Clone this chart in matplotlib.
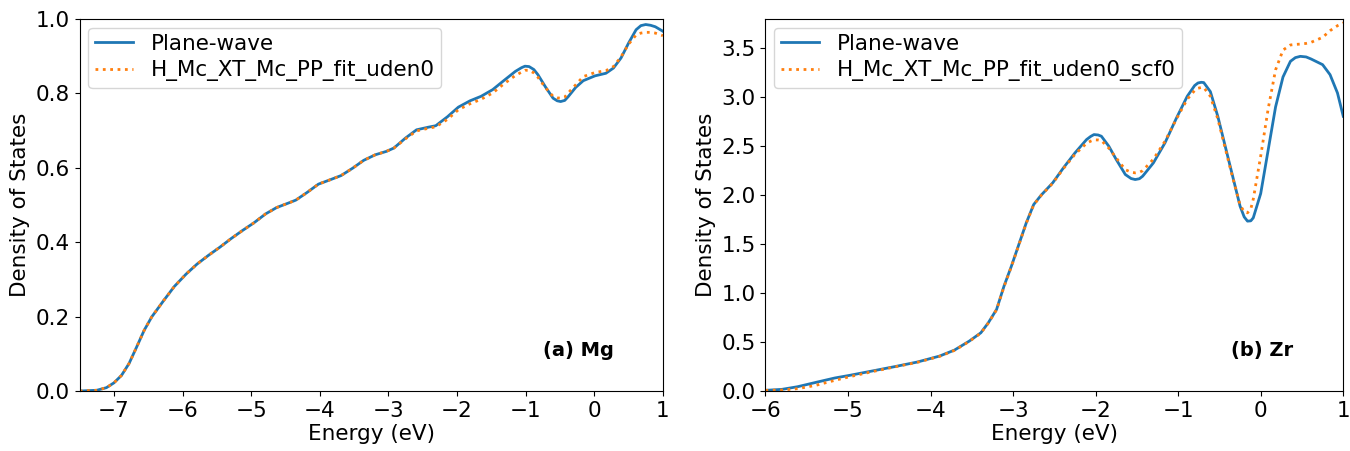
import numpy as np
import matplotlib.pyplot as plt

# Mg (panel a): energy (eV) and density of states
mg_energy = [-7.50, -7.25, -7.11, -7.00, -6.89, -6.78, -6.67, -6.56, -6.45, -6.28,
             -6.12, -5.95, -5.79, -5.62, -5.46, -5.29, -5.13, -4.96, -4.79, -4.63,
             -4.46, -4.35, -4.19, -4.02, -3.86, -3.69, -3.52, -3.36, -3.19, -3.03,
             -2.92, -2.75, -2.59, -2.42, -2.31, -2.14, -1.98, -1.81, -1.65, -1.48,
             -1.32, -1.15, -1.06, -1.01, -0.95, -0.88, -0.82, -0.71, -0.60, -0.54,
             -0.49, -0.43, -0.38, -0.27, -0.16, 0.01, 0.17, 0.28, 0.39, 0.50,
             0.61, 0.68, 0.75, 0.82, 0.89, 1.00]
mg_pw = [0.000, 0.002, 0.009, 0.022, 0.042, 0.074, 0.118, 0.163, 0.199, 0.242,
         0.281, 0.314, 0.341, 0.365, 0.386, 0.410, 0.431, 0.452, 0.476, 0.493,
         0.505, 0.513, 0.533, 0.556, 0.567, 0.579, 0.599, 0.620, 0.635, 0.644,
         0.653, 0.680, 0.702, 0.709, 0.713, 0.737, 0.763, 0.780, 0.792, 0.810,
         0.834, 0.859, 0.869, 0.873, 0.872, 0.864, 0.850, 0.817, 0.787, 0.780,
         0.778, 0.781, 0.791, 0.816, 0.834, 0.847, 0.854, 0.868, 0.895, 0.935,
         0.971, 0.982, 0.985, 0.983, 0.979, 0.967]
mg_fit = [0.000, 0.002, 0.009, 0.022, 0.042, 0.074, 0.118, 0.163, 0.199, 0.242,
          0.281, 0.314, 0.341, 0.365, 0.386, 0.410, 0.431, 0.452, 0.476, 0.493,
          0.505, 0.513, 0.533, 0.556, 0.567, 0.579, 0.599, 0.620, 0.635, 0.644,
          0.653, 0.678, 0.699, 0.706, 0.710, 0.730, 0.756, 0.772, 0.784, 0.801,
          0.825, 0.848, 0.857, 0.862, 0.862, 0.855, 0.843, 0.815, 0.792, 0.788,
          0.787, 0.790, 0.801, 0.823, 0.845, 0.856, 0.861, 0.872, 0.898, 0.932,
          0.957, 0.962, 0.964, 0.964, 0.962, 0.955]

# Zr (panel b)
zr_energy = [-6.00, -5.80, -5.61, -5.39, -5.16, -4.98, -4.71, -4.44, -4.16, -3.89,
             -3.71, -3.53, -3.39, -3.30, -3.20, -3.11, -3.02, -2.93, -2.84, -2.75,
             -2.66, -2.52, -2.39, -2.25, -2.11, -2.06, -2.02, -1.97, -1.93, -1.84,
             -1.75, -1.64, -1.57, -1.52, -1.47, -1.43, -1.30, -1.16, -1.02, -0.89,
             -0.80, -0.76, -0.72, -0.69, -0.61, -0.52, -0.43, -0.34, -0.25, -0.20,
             -0.16, -0.12, -0.09, 0.00, 0.09, 0.18, 0.27, 0.36, 0.42, 0.48,
             0.55, 0.61, 0.75, 0.84, 0.93, 1.00]
zr_pw = [0.007, 0.017, 0.044, 0.088, 0.133, 0.160, 0.204, 0.248, 0.296, 0.357,
         0.418, 0.510, 0.595, 0.697, 0.833, 1.071, 1.276, 1.497, 1.718, 1.905,
         2.000, 2.126, 2.279, 2.432, 2.568, 2.600, 2.619, 2.615, 2.602, 2.500,
         2.364, 2.211, 2.170, 2.160, 2.168, 2.194, 2.330, 2.534, 2.789, 3.010,
         3.120, 3.146, 3.153, 3.150, 3.058, 2.806, 2.500, 2.194, 1.888, 1.778,
         1.735, 1.738, 1.769, 2.017, 2.459, 2.901, 3.207, 3.367, 3.405, 3.418,
         3.412, 3.391, 3.333, 3.231, 3.044, 2.806]
zr_fit = [0.007, 0.010, 0.024, 0.058, 0.109, 0.146, 0.197, 0.245, 0.293, 0.354,
          0.415, 0.507, 0.592, 0.694, 0.830, 1.065, 1.272, 1.493, 1.714, 1.901,
          1.998, 2.122, 2.272, 2.418, 2.530, 2.552, 2.565, 2.564, 2.558, 2.480,
          2.380, 2.260, 2.235, 2.228, 2.234, 2.250, 2.368, 2.550, 2.780, 2.980,
          3.070, 3.092, 3.100, 3.100, 3.010, 2.780, 2.480, 2.180, 1.900, 1.830,
          1.820, 1.860, 1.960, 2.400, 2.880, 3.280, 3.482, 3.534, 3.540, 3.543,
          3.550, 3.561, 3.612, 3.680, 3.731, 3.760]

plt.rcParams['font.size'] = 15.5

fig = plt.figure(figsize=(13.5, 4.51), dpi=100)
ax1 = fig.add_axes([0.059, 0.133, 0.432, 0.825])
ax2 = fig.add_axes([0.567, 0.133, 0.428, 0.825])

ax1.plot(mg_energy, mg_pw, color='tab:blue', lw=2, label='Plane-wave')
ax1.plot(mg_energy, mg_fit, color='tab:orange', lw=2, ls=':', label='H_Mc_XT_Mc_PP_fit_uden0')
ax1.set_xlim(-7.5, 1)
ax1.set_ylim(0, 1.0)
ax1.set_xticks(np.arange(-7, 2, 1))
ax1.set_xlabel('Energy (eV)', labelpad=2)
ax1.set_ylabel('Density of States')
ax1.legend(loc='upper left', fontsize=15.5, handlelength=1.8, borderpad=0.3,
           labelspacing=0.3, borderaxespad=0.4)
ax1.text(0.855, 0.11, '(a) Mg', transform=ax1.transAxes, ha='center', va='center',
         fontweight='bold', fontsize=14)

ax2.plot(zr_energy, zr_pw, color='tab:blue', lw=2, label='Plane-wave')
ax2.plot(zr_energy, zr_fit, color='tab:orange', lw=2, ls=':', label='H_Mc_XT_Mc_PP_fit_uden0_scf0')
ax2.set_xlim(-6, 1)
ax2.set_ylim(0, 3.8)
ax2.set_xticks(np.arange(-6, 2, 1))
ax2.set_yticks(np.arange(0, 3.6, 0.5))
ax2.set_xlabel('Energy (eV)', labelpad=2)
ax2.set_ylabel('Density of States')
ax2.legend(loc='upper left', fontsize=15.5, handlelength=1.8, borderpad=0.3,
           labelspacing=0.3, borderaxespad=0.4)
ax2.text(0.86, 0.11, '(b) Zr', transform=ax2.transAxes, ha='center', va='center',
         fontweight='bold', fontsize=14)

plt.savefig('out.png', dpi=100)
